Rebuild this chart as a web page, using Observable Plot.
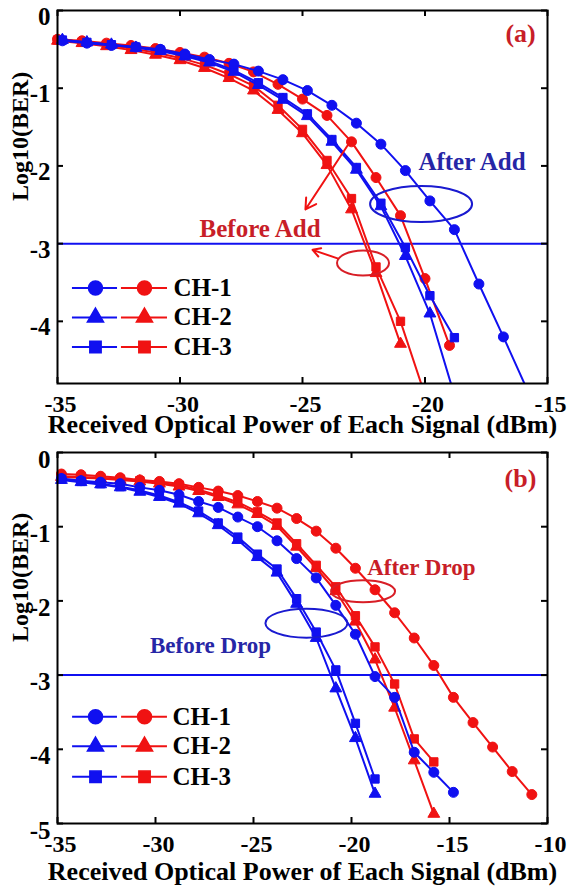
<!DOCTYPE html>
<html>
<head>
<meta charset="utf-8">
<script src="https://cdn.jsdelivr.net/npm/d3@7"></script>
<script src="https://cdn.jsdelivr.net/npm/@observablehq/plot@0.6"></script>
<style>
html, body { margin: 0; padding: 0; background: #fff; }
#wrap { position: relative; width: 569px; height: 888px; overflow: hidden; background: #fff; }
#wrap > svg { position: absolute; left: 0; }
</style>
</head>
<body>
<div id="wrap"></div>
<script>
// ---------------- Panel (a) data ----------------
const aXTicks = [-35, -30, -25, -20, -15];
const aYTicks = [0, -1, -2, -3, -4];
// After Add (blue)
const aAfterCh1X = [-34.8,-33.8,-32.8,-31.8,-30.8,-29.8,-28.8,-27.8,-26.8,-25.8,-24.8,-23.8,-22.8,-21.8,-20.8,-19.8,-18.8,-17.8,-16.8,-15.8];
const aAfterCh1Y = [-0.39,-0.42,-0.45,-0.47,-0.50,-0.56,-0.63,-0.69,-0.78,-0.89,-1.03,-1.22,-1.45,-1.72,-2.06,-2.45,-2.82,-3.52,-4.20,-4.90];
const aAfterCh2X = [-34.8,-33.8,-32.8,-31.8,-30.8,-29.8,-28.8,-27.8,-26.8,-25.8,-24.8,-23.8,-22.8,-21.8,-20.8,-19.8,-18.8];
const aAfterCh2Y = [-0.38,-0.41,-0.44,-0.48,-0.52,-0.59,-0.67,-0.79,-0.96,-1.15,-1.36,-1.69,-2.05,-2.52,-3.16,-3.90,-4.95];
const aAfterCh3X = [-34.8,-33.8,-32.8,-31.8,-30.8,-29.8,-28.8,-27.8,-26.8,-25.8,-24.8,-23.8,-22.8,-21.8,-20.8,-19.8,-18.8];
const aAfterCh3Y = [-0.38,-0.41,-0.44,-0.47,-0.51,-0.58,-0.65,-0.77,-0.93,-1.12,-1.33,-1.66,-2.02,-2.48,-3.05,-3.67,-4.21];
// Before Add (red)
const aBeforeCh1X = [-35,-34,-33,-32,-31,-30,-29,-28,-27,-26,-25,-24,-23,-22,-21,-20,-19];
const aBeforeCh1Y = [-0.37,-0.39,-0.42,-0.45,-0.49,-0.54,-0.60,-0.68,-0.79,-0.95,-1.14,-1.35,-1.69,-2.15,-2.64,-3.45,-4.31];
const aBeforeCh2X = [-35,-34,-33,-32,-31,-30,-29,-28,-27,-26,-25,-24,-23,-22,-21];
const aBeforeCh2Y = [-0.39,-0.42,-0.46,-0.51,-0.57,-0.64,-0.74,-0.87,-1.03,-1.28,-1.58,-1.99,-2.56,-3.38,-4.29];
const aBeforeCh3X = [-35,-34,-33,-32,-31,-30,-29,-28,-27,-26,-25,-24,-23,-22,-21,-20];
const aBeforeCh3Y = [-0.38,-0.41,-0.44,-0.49,-0.54,-0.61,-0.70,-0.82,-0.97,-1.22,-1.53,-1.93,-2.42,-3.30,-4.00,-4.95];

// ---------------- Panel (b) data ----------------
const bXTicks = [-35, -30, -25, -20, -15, -10];
const bYTicks = [0, -1, -2, -3, -4, -5];
// After Drop (red)
const bAfterCh1X = [-34.8,-33.8,-32.8,-31.8,-30.8,-29.8,-28.8,-27.8,-26.8,-25.8,-24.8,-23.8,-22.8,-21.8,-20.8,-19.8,-18.8,-17.8,-16.8,-15.8,-14.8,-13.8,-12.8,-11.8,-10.8];
const bAfterCh1Y = [-0.29,-0.30,-0.32,-0.34,-0.37,-0.39,-0.42,-0.47,-0.52,-0.58,-0.66,-0.75,-0.89,-1.06,-1.29,-1.56,-1.85,-2.16,-2.50,-2.87,-3.30,-3.64,-3.97,-4.30,-4.61];
const bAfterCh2X = [-34.8,-33.8,-32.8,-31.8,-30.8,-29.8,-28.8,-27.8,-26.8,-25.8,-24.8,-23.8,-22.8,-21.8,-20.8,-19.8,-18.8,-17.8,-16.8,-15.8];
const bAfterCh2Y = [-0.33,-0.34,-0.35,-0.37,-0.39,-0.42,-0.46,-0.52,-0.60,-0.70,-0.83,-0.99,-1.27,-1.56,-1.87,-2.28,-2.79,-3.44,-4.15,-4.87];
const bAfterCh3X = [-34.8,-33.8,-32.8,-31.8,-30.8,-29.8,-28.8,-27.8,-26.8,-25.8,-24.8,-23.8,-22.8,-21.8,-20.8,-19.8,-18.8,-17.8,-16.8,-15.8];
const bAfterCh3Y = [-0.32,-0.33,-0.34,-0.36,-0.38,-0.41,-0.44,-0.50,-0.58,-0.67,-0.80,-0.95,-1.23,-1.52,-1.81,-2.20,-2.62,-3.12,-3.86,-4.17];
// Before Drop (blue)
const bBeforeCh1X = [-34.8,-33.8,-32.8,-31.8,-30.8,-29.8,-28.8,-27.8,-26.8,-25.8,-24.8,-23.8,-22.8,-21.8,-20.8,-19.8,-18.8,-17.8,-16.8,-15.8,-14.8];
const bBeforeCh1Y = [-0.35,-0.38,-0.40,-0.42,-0.47,-0.51,-0.57,-0.66,-0.74,-0.87,-1.00,-1.19,-1.43,-1.69,-2.06,-2.45,-3.02,-3.30,-4.04,-4.31,-4.58];
const bBeforeCh2X = [-34.8,-33.8,-32.8,-31.8,-30.8,-29.8,-28.8,-27.8,-26.8,-25.8,-24.8,-23.8,-22.8,-21.8,-20.8,-19.8,-18.8];
const bBeforeCh2Y = [-0.37,-0.40,-0.43,-0.47,-0.53,-0.60,-0.69,-0.82,-0.98,-1.18,-1.41,-1.62,-2.04,-2.50,-3.18,-3.85,-4.60];
const bBeforeCh3X = [-34.8,-33.8,-32.8,-31.8,-30.8,-29.8,-28.8,-27.8,-26.8,-25.8,-24.8,-23.8,-22.8,-21.8,-20.8,-19.8,-18.8];
const bBeforeCh3Y = [-0.36,-0.39,-0.42,-0.46,-0.51,-0.58,-0.67,-0.79,-0.95,-1.14,-1.37,-1.57,-1.97,-2.42,-2.93,-3.65,-4.40];

// ---------------- shared labels ----------------
const legendLabels = ["CH-1", "CH-2", "CH-3"];
const legendSymbols = ["circle", "triangle", "square"];
const xLabelText = "Received Optical Power of Each Signal (dBm)";
const yLabelText = "Log10(BER)";
const thresholdValue = -3;

// ---------------- styles ----------------
const FONT = "'Liberation Serif','Times New Roman',Times,serif";
const BLUE = "#1010f0";
const RED = "#f01212";
const BLUE_TXT = "#2626a6";
const RED_TXT = "#c81e28";
const BLUE_ELL = "#1a1ad0";
const RED_ELL = "#d81e26";
const MARK_R = {circle: 5, triangle: 4.4, square: 4.7};
const LEG_R = {circle: 7, triangle: 6, square: 6.4};

function ellipseSymbol(rx, ry) {
  const k = 0.5522848;
  return {
    draw(ctx) {
      const kx = rx * k, ky = ry * k;
      ctx.moveTo(rx, 0);
      ctx.bezierCurveTo(rx, ky, kx, ry, 0, ry);
      ctx.bezierCurveTo(-kx, ry, -rx, ky, -rx, 0);
      ctx.bezierCurveTo(-rx, -ky, -kx, -ry, 0, -ry);
      ctx.bezierCurveTo(kx, -ry, rx, -ky, rx, 0);
      ctx.closePath();
    }
  };
}

function makePanel(p) {
  const innerW = p.width - p.ml - p.mr;
  const innerH = p.height - p.mt - p.mb;
  const yMin = p.yDomain[0];
  const tickLen = 6;
  const marks = [];

  marks.push(Plot.ruleY([thresholdValue], {y: d => d, stroke: BLUE, strokeWidth: 2}));

  for (const s of p.series) {
    const pts = s.x.map((x, i) => ({x, y: s.y[i]}));
    marks.push(Plot.line(pts, {x: "x", y: "y", stroke: s.color, strokeWidth: 2, clip: true}));
    marks.push(Plot.dot(pts.filter(d => d.y >= yMin), {
      x: "x", y: "y", symbol: s.symbol, r: MARK_R[s.symbol],
      fill: s.color, stroke: s.color, strokeWidth: 1
    }));
  }

  for (const e of p.ellipses) {
    marks.push(Plot.dot([e], {x: "x", y: "y", r: 1, symbol: ellipseSymbol(e.rx, e.ry), stroke: e.color, fill: "none", strokeWidth: 2}));
  }
  for (const a of p.arrows) {
    marks.push(Plot.arrow([a], {x1: "x1", y1: "y1", x2: "x2", y2: "y2", stroke: RED, strokeWidth: 2, headLength: 9}));
  }
  for (const n of p.notes) {
    marks.push(Plot.text([n], {x: "x", y: "y", text: "text", fill: n.color, fontSize: n.size, textAnchor: n.anchor, lineAnchor: "middle"}));
  }

  // legend
  const L = p.legend;
  legendLabels.forEach((lab, i) => {
    const yy = L.y[i];
    const sym = legendSymbols[i];
    marks.push(Plot.ruleY([yy], {y: d => d, x1: () => L.blueX[0], x2: () => L.blueX[1], stroke: BLUE, strokeWidth: 2}));
    marks.push(Plot.ruleY([yy], {y: d => d, x1: () => L.redX[0], x2: () => L.redX[1], stroke: RED, strokeWidth: 2}));
    marks.push(Plot.dot([yy], {x: () => L.markX[0], y: d => d, symbol: sym, r: LEG_R[sym], fill: BLUE, stroke: BLUE}));
    marks.push(Plot.dot([yy], {x: () => L.markX[1], y: d => d, symbol: sym, r: LEG_R[sym], fill: RED, stroke: RED}));
    marks.push(Plot.text([lab], {x: () => L.textX, y: () => yy, text: d => d, textAnchor: "start", lineAnchor: "middle", fontSize: 25, fill: "black"}));
  });

  // frame and inward ticks
  marks.push(Plot.frame({stroke: "black", strokeWidth: 2}));
  marks.push(Plot.tickX(p.xTicks, {x: d => d, insetTop: innerH - tickLen, stroke: "black", strokeWidth: 2}));
  marks.push(Plot.tickX(p.xTicks, {x: d => d, insetBottom: innerH - tickLen, stroke: "black", strokeWidth: 2}));
  marks.push(Plot.tickY(p.yTicks, {y: d => d, insetRight: innerW - tickLen, stroke: "black", strokeWidth: 2}));
  marks.push(Plot.tickY(p.yTicks, {y: d => d, insetLeft: innerW - tickLen, stroke: "black", strokeWidth: 2}));

  // tick labels
  marks.push(Plot.text(p.xTicks, {x: d => d, text: d => String(d), frameAnchor: "bottom", dy: 21, dx: 3, lineAnchor: "middle", fontSize: 24, fill: "black"}));
  marks.push(Plot.text(p.yTicks, {y: d => d, text: d => String(d), frameAnchor: "left", dx: -7, dy: p.yTickDy, textAnchor: "end", lineAnchor: "middle", fontSize: 25, fill: "black"}));

  // axis titles
  marks.push(Plot.text([xLabelText], {text: d => d, frameAnchor: "bottom", dy: p.xLabelDy, lineAnchor: "middle", fontSize: 26, fill: "black"}));
  marks.push(Plot.text([yLabelText], {text: d => d, frameAnchor: "left", rotate: -90, dx: -37, dy: p.yLabelDy, lineAnchor: "middle", fontSize: 24, fill: "black"}));

  return Plot.plot({
    width: p.width, height: p.height,
    marginLeft: p.ml, marginRight: p.mr, marginTop: p.mt, marginBottom: p.mb,
    x: {domain: p.xDomain, axis: null},
    y: {domain: p.yDomain, axis: null},
    style: {fontFamily: FONT, fontWeight: "bold", fontSize: "25px", background: "white", color: "black", overflow: "visible"},
    marks
  });
}

const panelA = makePanel({
  width: 569, height: 440, ml: 57, mr: 22, mt: 10, mb: 57,
  xDomain: [-35, -15], yDomain: [-4.8, 0],
  xTicks: aXTicks, yTicks: aYTicks, yTickDy: 6, xLabelDy: 41, yLabelDy: 4,
  series: [
    {x: aBeforeCh2X, y: aBeforeCh2Y, color: RED, symbol: "triangle"},
    {x: aBeforeCh3X, y: aBeforeCh3Y, color: RED, symbol: "square"},
    {x: aBeforeCh1X, y: aBeforeCh1Y, color: RED, symbol: "circle"},
    {x: aAfterCh2X, y: aAfterCh2Y, color: BLUE, symbol: "triangle"},
    {x: aAfterCh3X, y: aAfterCh3Y, color: BLUE, symbol: "square"},
    {x: aAfterCh1X, y: aAfterCh1Y, color: BLUE, symbol: "circle"}
  ],
  ellipses: [
    {x: -20.16, y: -2.49, rx: 51, ry: 18, color: BLUE_ELL},
    {x: -22.53, y: -3.25, rx: 26, ry: 12.5, color: RED_ELL}
  ],
  arrows: [
    {x1: -23.04, y1: -1.68, x2: -24.88, y2: -2.56},
    {x1: -23.57, y1: -3.19, x2: -24.59, y2: -3.08}
  ],
  notes: [
    {text: "After Add", x: -20.27, y: -1.95, color: BLUE_TXT, size: 25, anchor: "start"},
    {text: "Before Add", x: -26.73, y: -2.81, color: RED_TXT, size: 25, anchor: "middle"},
    {text: "(a)", x: -16.1, y: -0.30, color: RED_TXT, size: 26, anchor: "middle"}
  ],
  legend: {y: [-3.57, -3.95, -4.33], blueX: [-34.39, -32.55], redX: [-32.39, -30.51], markX: [-33.45, -31.45], textX: -30.27}
});

const panelB = makePanel({
  width: 569, height: 448, ml: 57, mr: 22, mt: 12, mb: 65,
  xDomain: [-35, -10], yDomain: [-5, 0],
  xTicks: bXTicks, yTicks: bYTicks, yTickDy: 7, xLabelDy: 48, yLabelDy: 4,
  series: [
    {x: bAfterCh2X, y: bAfterCh2Y, color: RED, symbol: "triangle"},
    {x: bAfterCh3X, y: bAfterCh3Y, color: RED, symbol: "square"},
    {x: bAfterCh1X, y: bAfterCh1Y, color: RED, symbol: "circle"},
    {x: bBeforeCh2X, y: bBeforeCh2Y, color: BLUE, symbol: "triangle"},
    {x: bBeforeCh3X, y: bBeforeCh3Y, color: BLUE, symbol: "square"},
    {x: bBeforeCh1X, y: bBeforeCh1Y, color: BLUE, symbol: "circle"}
  ],
  ellipses: [
    {x: -19.41, y: -1.87, rx: 32, ry: 11, color: RED_ELL},
    {x: -22.3, y: -2.30, rx: 41, ry: 14.5, color: BLUE_ELL}
  ],
  arrows: [],
  notes: [
    {text: "After Drop", x: -19.2, y: -1.55, color: RED_TXT, size: 23, anchor: "start"},
    {text: "Before Drop", x: -27.19, y: -2.60, color: BLUE_TXT, size: 23, anchor: "middle"},
    {text: "(b)", x: -11.38, y: -0.35, color: RED_TXT, size: 26, anchor: "middle"}
  ],
  legend: {y: [-3.56, -3.96, -4.37], blueX: [-34.23, -31.94], redX: [-31.73, -29.39], markX: [-33.06, -30.56], textX: -29.13}
});

const wrap = document.getElementById("wrap");
panelA.style.top = "0px";
panelB.style.top = "440px";
wrap.appendChild(panelA);
wrap.appendChild(panelB);
</script>
</body>
</html>
